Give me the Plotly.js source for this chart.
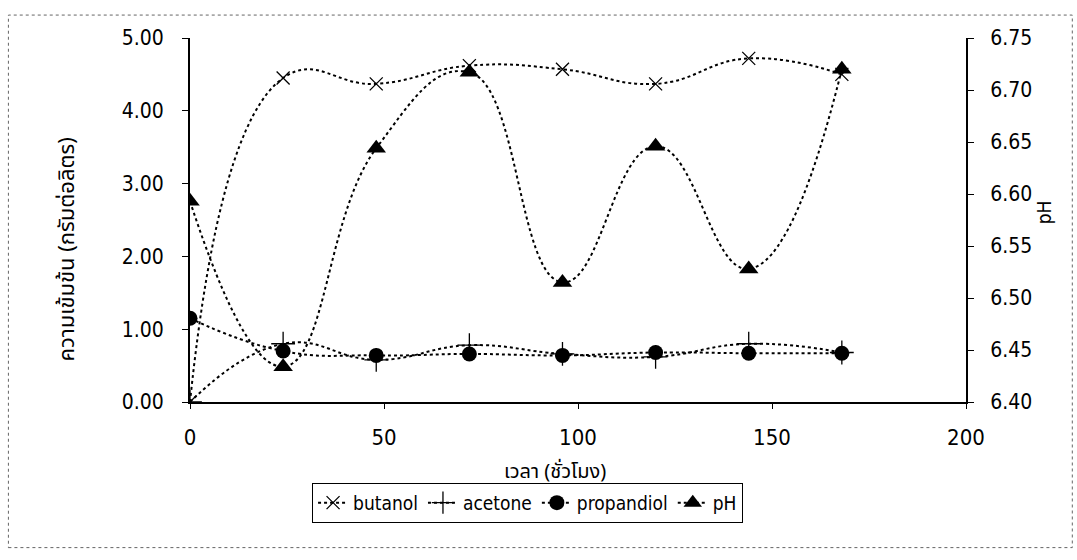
<!DOCTYPE html>
<html><head><meta charset="utf-8">
<script src="https://cdn.plot.ly/plotly-3.0.1.min.js"></script>
<style>html,body{margin:0;padding:0;background:#fff}#chart{width:1077px;height:560px}</style>
</head><body><div id="chart"></div>
<script>
const time = [0, 24, 48, 72, 96, 120, 144, 168];
const butanol = [0.00, 4.45, 4.37, 4.62, 4.57, 4.37, 4.72, 4.50];
const acetone = [0.00, 0.80, 0.58, 0.78, 0.66, 0.62, 0.80, 0.68];
const propandiol = [1.15, 0.70, 0.64, 0.66, 0.64, 0.68, 0.67, 0.67];
const pH = [6.593, 6.434, 6.644, 6.717, 6.515, 6.646, 6.528, 6.720];

const seriesNames = ['butanol', 'acetone', 'propandiol', 'pH'];
const xTickVals = [0, 50, 100, 150, 200];
const yTickVals = [0, 1, 2, 3, 4, 5];
const y2TickVals = [6.40, 6.45, 6.50, 6.55, 6.60, 6.65, 6.70, 6.75];

const numFont = {family: '"Liberation Sans Narrow", "DejaVu Sans Condensed", "Arial Narrow", sans-serif', size: 21, color: '#000'};
const thaiFont = {family: '"Noto Sans Thai", "Noto Sans Thai UI", Tahoma, "DejaVu Sans", sans-serif', size: 22, color: '#000'};

const lineStyle = {color: '#000', width: 2, dash: 'dot', shape: 'spline', smoothing: 1.3};

const traces = [
  {x: time, y: butanol, name: seriesNames[0], type: 'scatter', mode: 'lines+markers', line: lineStyle,
   marker: {symbol: 'x-thin-open', size: 13, color: '#000', line: {width: 1.3, color: '#000'}}},
  {x: time, y: acetone, name: seriesNames[1], type: 'scatter', mode: 'lines+markers', line: lineStyle,
   marker: {symbol: 'cross-thin-open', size: 17, color: '#000', line: {width: 1.3, color: '#000'}}},
  {x: time, y: propandiol, name: seriesNames[2], type: 'scatter', mode: 'lines+markers', line: lineStyle,
   marker: {symbol: 'circle', size: 15, color: '#000'}},
  {x: time, y: pH, name: seriesNames[3], type: 'scatter', mode: 'lines+markers', yaxis: 'y2', line: lineStyle,
   marker: {symbol: 'triangle-up', size: 17, color: '#000'}}
];

const layout = {
  width: 1077, height: 560,
  margin: {l: 190, r: 111, t: 38, b: 158},
  paper_bgcolor: '#fff', plot_bgcolor: '#fff',
  showlegend: true,
  legend: {orientation: 'h', x: 0.435, xanchor: 'center', y: -0.222, yanchor: 'top',
           bordercolor: '#000', borderwidth: 1, font: {family: numFont.family, size: 19, color: '#000'},
           tracegroupgap: 0, itemwidth: 30},
  xaxis: {range: [0, 200], tickvals: xTickVals, ticktext: xTickVals.map(String), showline: true, linecolor: '#000', linewidth: 2,
          ticks: 'outside', ticklen: 5, tickcolor: '#000', showgrid: false, zeroline: false,
          tickfont: Object.assign({}, numFont, {size: 22}), ticklabelstandoff: 10, mirror: false},
  yaxis: {range: [0, 5], tickvals: yTickVals, tickformat: '.2f', showline: true, linecolor: '#000', linewidth: 2,
          ticks: 'outside', ticklen: 6, tickcolor: '#000', showgrid: false, zeroline: false,
          tickfont: numFont, ticklabelstandoff: 14},
  yaxis2: {range: [6.40, 6.75], tickvals: y2TickVals, tickformat: '.2f', overlaying: 'y', side: 'right', showline: true,
           linecolor: '#000', linewidth: 2, ticks: 'outside', ticklen: 6, tickcolor: '#000', showgrid: false, zeroline: false,
           tickfont: numFont, ticklabelstandoff: 12},
  annotations: [
    {text: 'ความเข้มข้น (กรัมต่อลิตร)', xref: 'paper', yref: 'paper', x: -0.158, y: 0.42, textangle: -90,
     showarrow: false, font: thaiFont, xanchor: 'center', yanchor: 'middle'},
    {text: 'เวลา (ชั่วโมง)', xref: 'paper', yref: 'paper', x: 0.47, y: -0.192,
     showarrow: false, font: Object.assign({}, thaiFont, {size: 20}), xanchor: 'center', yanchor: 'middle'},
    {text: 'pH', xref: 'paper', yref: 'paper', x: 1.1, y: 0.52, textangle: -90,
     showarrow: false, font: Object.assign({}, numFont, {size: 19}), xanchor: 'center', yanchor: 'middle'}
  ],
  shapes: [
    {type: 'rect', xref: 'paper', yref: 'paper', x0: -0.234, x1: 1.137, y0: -0.40, y1: 1.063,
     line: {color: '#666', width: 1, dash: 'dot'}, layer: 'below'}
  ]
};

Plotly.newPlot('chart', traces, layout, {displayModeBar: false, staticPlot: true});
</script></body></html>
